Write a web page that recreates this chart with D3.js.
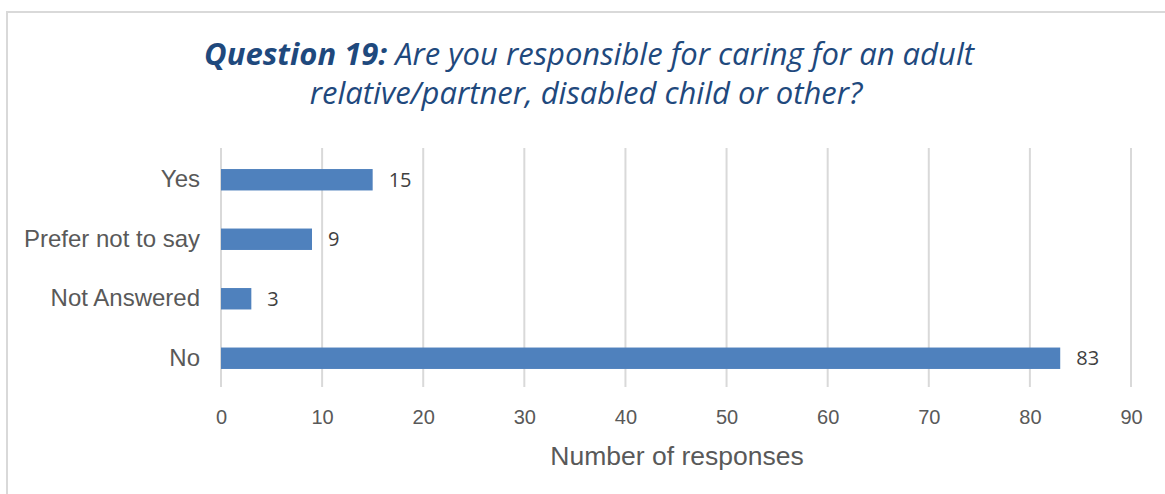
<!DOCTYPE html>
<html><head><meta charset="utf-8">
<script src="https://cdn.jsdelivr.net/npm/d3@7"></script>
<style>body{margin:0;background:#fff}svg{display:block}</style>
</head><body>
<svg id="c" width="1165" height="494"></svg>
<script>
const categories = ["Yes", "Prefer not to say", "Not Answered", "No"];
const values = [15, 9, 3, 83];
const ticks = [0,10,20,30,40,50,60,70,80,90];
const titleBold = "Question 19:";
const titleRest1 = " Are you responsible for caring for an adult";
const titleLine2 = "relative/partner, disabled child or other?";
const xTitle = "Number of responses";

const svg = d3.select("#c");
svg.append("rect").attr("x",7).attr("y",12).attr("width",1200).attr("height",600)
  .attr("fill","#fff").attr("stroke","#d9d9d9").attr("stroke-width",2);

const x = d3.scaleLinear().domain([0,90]).range([221,1131]);
const y = d3.scaleBand().domain(categories).range([150,388]).paddingInner(0.64).paddingOuter(0.32);

// gridlines
svg.append("g").selectAll("line").data(ticks).join("line")
  .attr("x1",d=>x(d)).attr("x2",d=>x(d)).attr("y1",148).attr("y2",387)
  .attr("stroke","#d9d9d9").attr("stroke-width",2);

// x axis labels
const xa = svg.append("g").attr("transform","translate(0,388)")
  .call(d3.axisBottom(x).tickValues(ticks).tickSize(0).tickPadding(22));
xa.select(".domain").remove();
xa.selectAll("text").attr("font-family","Liberation Sans, Arial, sans-serif").attr("font-size",20).attr("fill","#595959");

// y axis labels
const ya = svg.append("g").attr("transform","translate(221,0)")
  .call(d3.axisLeft(y).tickSize(0).tickPadding(21));
ya.select(".domain").remove();
ya.selectAll("text").attr("font-family","Liberation Sans, Arial, sans-serif").attr("font-size",24).attr("fill","#595959");

// bars
svg.append("g").selectAll("rect").data(values).join("rect")
  .attr("x",x(0)).attr("y",(d,i)=>y(categories[i])).attr("width",d=>x(d)-x(0)).attr("height",y.bandwidth())
  .attr("fill","#4f81bd");

// data labels
svg.append("g").selectAll("text").data(values).join("text")
  .attr("x",d=>x(d)+16).attr("y",(d,i)=>y(categories[i])+y.bandwidth()/2).attr("dy","0.36em")
  .attr("font-family","Open Sans, sans-serif").attr("font-size",20).attr("fill","#404040")
  .text(d=>d);

// axis title
svg.append("text").attr("x",677).attr("y",465).attr("text-anchor","middle")
  .attr("font-family","Liberation Sans, Arial, sans-serif").attr("font-size",26.5).attr("fill","#595959").text(xTitle);

// title
const t = svg.append("text").attr("x",589).attr("y",65).attr("text-anchor","middle")
  .attr("font-family","Open Sans, sans-serif").attr("font-size",31).attr("font-style","italic").attr("fill","#1f497d");
t.append("tspan").attr("font-weight","bold").text(titleBold);
t.append("tspan").text(titleRest1);
svg.append("text").attr("x",586).attr("y",104).attr("text-anchor","middle")
  .attr("font-family","Open Sans, sans-serif").attr("font-size",31).attr("font-style","italic").attr("fill","#1f497d")
  .text(titleLine2);
</script>
</body></html>
